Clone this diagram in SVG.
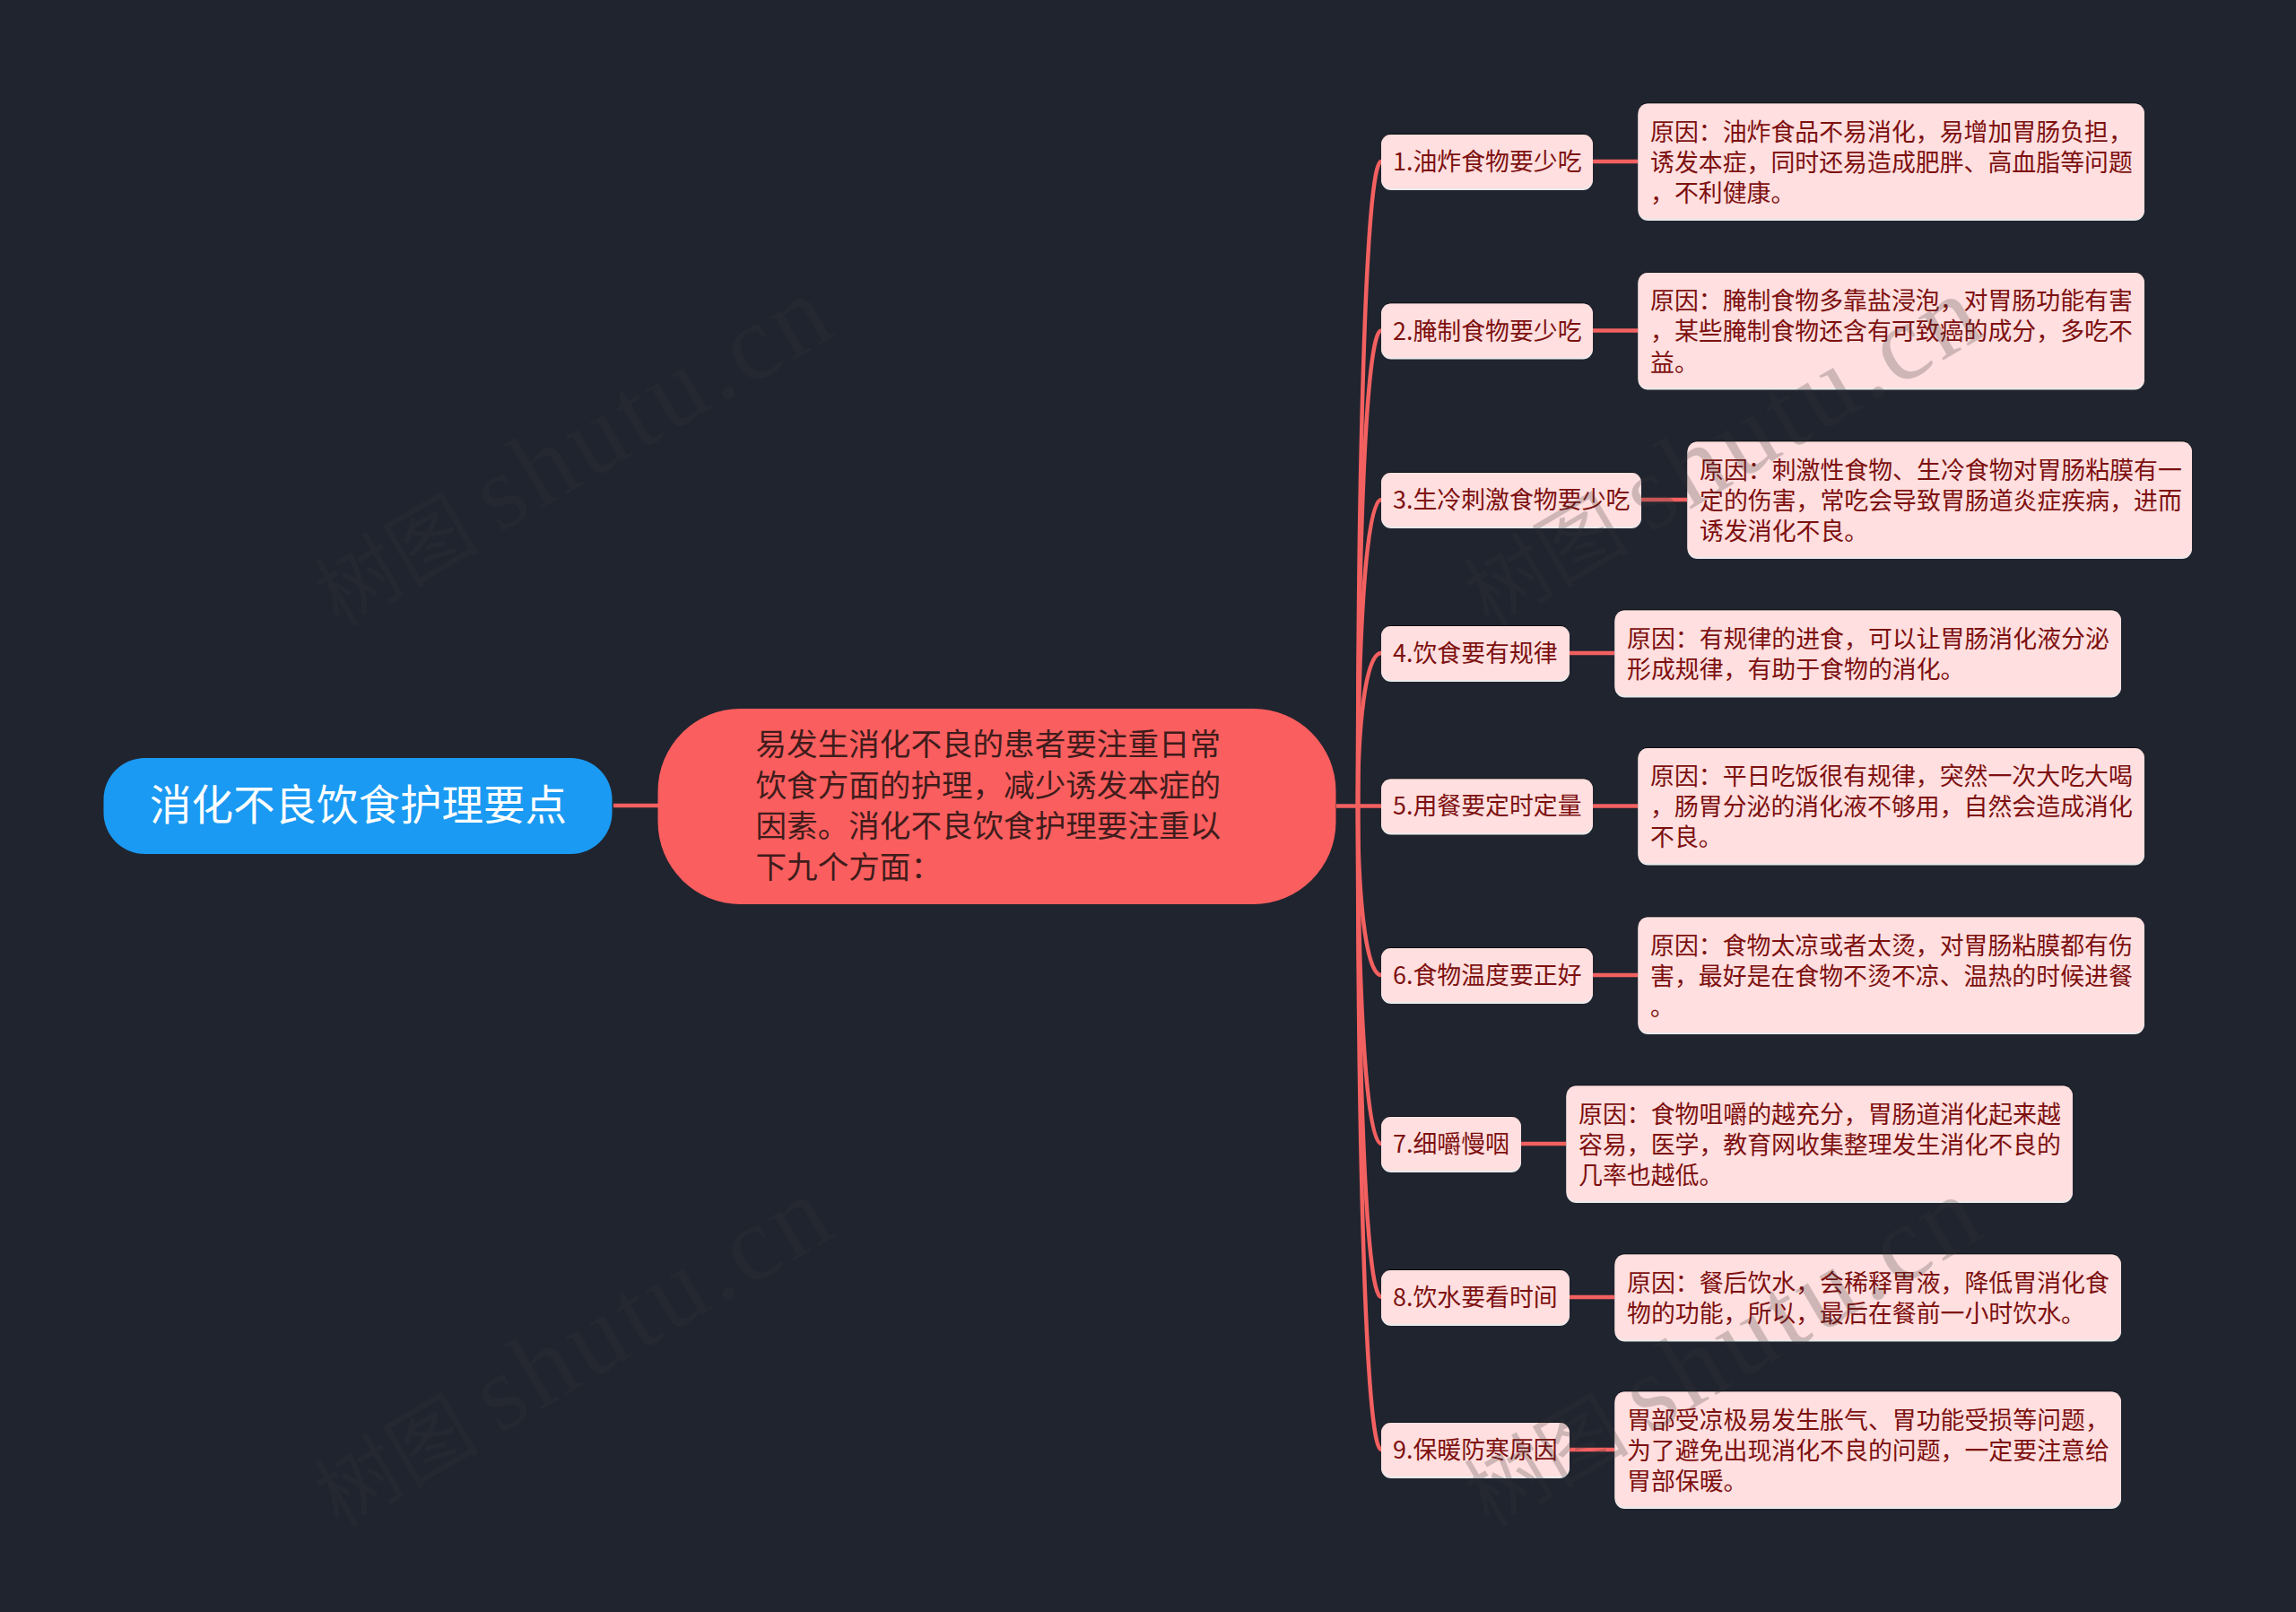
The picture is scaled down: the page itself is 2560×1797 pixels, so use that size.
<svg xmlns="http://www.w3.org/2000/svg" width="2560" height="1797" viewBox="0 0 2560 1797">
<style>
text{font-family:"Noto Sans CJK SC","Liberation Sans",sans-serif}
.c{fill:none;stroke:#f36060;stroke-width:4.5}
.n{fill:#ffdfdf;filter:url(#edge)}
.t{font-size:26.900px;fill:#7d1010;transform:translate(0,-.5px)}
.wm{font-family:"Liberation Serif","Noto Sans CJK SC",serif;font-size:92px;fill:#383838;fill-opacity:.24}
.wl{font-size:120px;letter-spacing:5px}
</style>
<defs>
<filter id="edge" x="-5%" y="-5%" width="110%" height="110%">
<feOffset in="SourceAlpha" dy="-1.5" result="a"/><feFlood flood-color="#000" flood-opacity=".7"/><feComposite in2="a" operator="in" result="d"/>
<feOffset in="SourceAlpha" dy="1.500" result="b"/><feFlood flood-color="#fff" flood-opacity=".9"/><feComposite in2="b" operator="in" result="l"/>
<feMerge><feMergeNode in="d"/><feMergeNode in="l"/><feMergeNode in="SourceGraphic"/></feMerge>
</filter>
</defs>
<rect width="2560" height="1797" fill="#20242f"/>
<g id="connectors">
<path class="c" d="M684 898H734"/>
<path class="c" d="M1490 898.500H1540"/>
<path class="c" d="M1514 898C1514 539 1522 180 1540 180"/>
<path class="c" d="M1514 898C1514 633 1522 368.500 1540 368.500"/>
<path class="c" d="M1514 898C1514 727 1522 557 1540 557"/>
<path class="c" d="M1514 898C1514 813 1522 728 1540 728"/>
<path class="c" d="M1514 898C1514 992 1522 1087 1540 1087"/>
<path class="c" d="M1514 898C1514 1086 1522 1275 1540 1275"/>
<path class="c" d="M1514 898C1514 1172 1522 1446 1540 1446"/>
<path class="c" d="M1514 898C1514 1257 1522 1616 1540 1616"/>
<path class="c" d="M1776 180H1826M1776 368.500H1826M1829 557H1881M1750 728H1800M1776 898.500H1826M1776 1087H1826M1696 1275H1746M1750 1446H1800M1750 1616H1800"/>
</g>
<g id="root"><rect x="115.500" y="845" width="567" height="107" rx="46" fill="#1a9af2"/>
<text x="167" y="914" font-size="46.500" fill="#fff">消化不良饮食护理要点</text></g>
<g id="main"><rect x="733.500" y="790" width="756" height="218" rx="92" fill="#fb5e5e"/>
<text font-size="34.600" fill="#3f1c1c"><tspan x="842.500" y="842">易发生消化不良的患者要注重日常</tspan><tspan x="842.500" y="888">饮食方面的护理，减少诱发本症的</tspan><tspan x="842.500" y="933">因素。消化不良饮食护理要注重以</tspan><tspan x="842.500" y="979">下九个方面：</tspan></text></g>
<g id="n1"><rect class="n" x="1540" y="150" width="236" height="60" rx="11"/><text class="t" x="1553" y="190.500">1.油炸食物要少吃</text></g>
<g id="r1"><rect class="n" x="1826.500" y="115.500" width="564.500" height="128.500" rx="11"/><text class="t"><tspan x="1840" y="157">原因：油炸食品不易消化，易增加胃肠负担，</tspan><tspan x="1840" y="191">诱发本症，同时还易造成肥胖、高血脂等问题</tspan><tspan x="1840" y="225.500">，不利健康。</tspan></text></g>
<g id="n2"><rect class="n" x="1540" y="338.500" width="236" height="60" rx="11"/><text class="t" x="1553" y="379">2.腌制食物要少吃</text></g>
<g id="r2"><rect class="n" x="1826.500" y="304" width="564.500" height="128.500" rx="11"/><text class="t"><tspan x="1840" y="345.500">原因：腌制食物多靠盐浸泡，对胃肠功能有害</tspan><tspan x="1840" y="379.500">，某些腌制食物还含有可致癌的成分，多吃不</tspan><tspan x="1840" y="414">益。</tspan></text></g>
<g id="n3"><rect class="n" x="1540" y="527" width="290" height="60" rx="11"/><text class="t" x="1553" y="567.500">3.生冷刺激食物要少吃</text></g>
<g id="r3"><rect class="n" x="1881.500" y="492.500" width="562.500" height="128.500" rx="11"/><text class="t"><tspan x="1895" y="534">原因：刺激性食物、生冷食物对胃肠粘膜有一</tspan><tspan x="1895" y="568">定的伤害，常吃会导致胃肠道炎症疾病，进而</tspan><tspan x="1895" y="602.500">诱发消化不良。</tspan></text></g>
<g id="n4"><rect class="n" x="1540" y="698" width="210" height="60" rx="11"/><text class="t" x="1553" y="738.500">4.饮食要有规律</text></g>
<g id="r4"><rect class="n" x="1800.500" y="680.500" width="564.500" height="95" rx="11"/><text class="t"><tspan x="1814" y="722">原因：有规律的进食，可以让胃肠消化液分泌</tspan><tspan x="1814" y="756">形成规律，有助于食物的消化。</tspan></text></g>
<g id="n5"><rect class="n" x="1540" y="868.500" width="236" height="60" rx="11"/><text class="t" x="1553" y="908.500">5.用餐要定时定量</text></g>
<g id="r5"><rect class="n" x="1826.500" y="834" width="564.500" height="128.500" rx="11"/><text class="t"><tspan x="1840" y="875">原因：平日吃饭很有规律，突然一次大吃大喝</tspan><tspan x="1840" y="909">，肠胃分泌的消化液不够用，自然会造成消化</tspan><tspan x="1840" y="943.500">不良。</tspan></text></g>
<g id="n6"><rect class="n" x="1540" y="1057" width="236" height="60" rx="11"/><text class="t" x="1553" y="1097.500">6.食物温度要正好</text></g>
<g id="r6"><rect class="n" x="1826.500" y="1022.500" width="564.500" height="128.500" rx="11"/><text class="t"><tspan x="1840" y="1064">原因：食物太凉或者太烫，对胃肠粘膜都有伤</tspan><tspan x="1840" y="1098">害，最好是在食物不烫不凉、温热的时候进餐</tspan><tspan x="1840" y="1132.500">。</tspan></text></g>
<g id="n7"><rect class="n" x="1540" y="1245" width="156" height="60" rx="11"/><text class="t" x="1553" y="1285.500">7.细嚼慢咽</text></g>
<g id="r7"><rect class="n" x="1746.500" y="1210.500" width="564.500" height="128.500" rx="11"/><text class="t"><tspan x="1760" y="1252">原因：食物咀嚼的越充分，胃肠道消化起来越</tspan><tspan x="1760" y="1286">容易，医学，教育网收集整理发生消化不良的</tspan><tspan x="1760" y="1320.500">几率也越低。</tspan></text></g>
<g id="n8"><rect class="n" x="1540" y="1416" width="210" height="60" rx="11"/><text class="t" x="1553" y="1456.500">8.饮水要看时间</text></g>
<g id="r8"><rect class="n" x="1800.500" y="1398.500" width="564.500" height="95" rx="11"/><text class="t"><tspan x="1814" y="1440">原因：餐后饮水，会稀释胃液，降低胃消化食</tspan><tspan x="1814" y="1474">物的功能，所以，最后在餐前一小时饮水。</tspan></text></g>
<g id="n9"><rect class="n" x="1540" y="1586" width="210" height="60" rx="11"/><text class="t" x="1553" y="1626.500">9.保暖防寒原因</text></g>
<g id="r9"><rect class="n" x="1800.500" y="1551.500" width="564.500" height="128.500" rx="11"/><text class="t"><tspan x="1814" y="1593">胃部受凉极易发生胀气、胃功能受损等问题，</tspan><tspan x="1814" y="1627">为了避免出现消化不良的问题，一定要注意给</tspan><tspan x="1814" y="1661.500">胃部保暖。</tspan></text></g>
<g id="watermark">
<text class="wm" transform="translate(378 700) rotate(-30.500)">树图 <tspan class="wl">shutu.cn</tspan></text>
<text class="wm" transform="translate(378 1704) rotate(-30.500)">树图 <tspan class="wl">shutu.cn</tspan></text>
<text class="wm" transform="translate(1660 700) rotate(-30.500)">树图 <tspan class="wl">shutu.cn</tspan></text>
<text class="wm" transform="translate(1660 1704) rotate(-30.500)">树图 <tspan class="wl">shutu.cn</tspan></text>
</g>
</svg>
